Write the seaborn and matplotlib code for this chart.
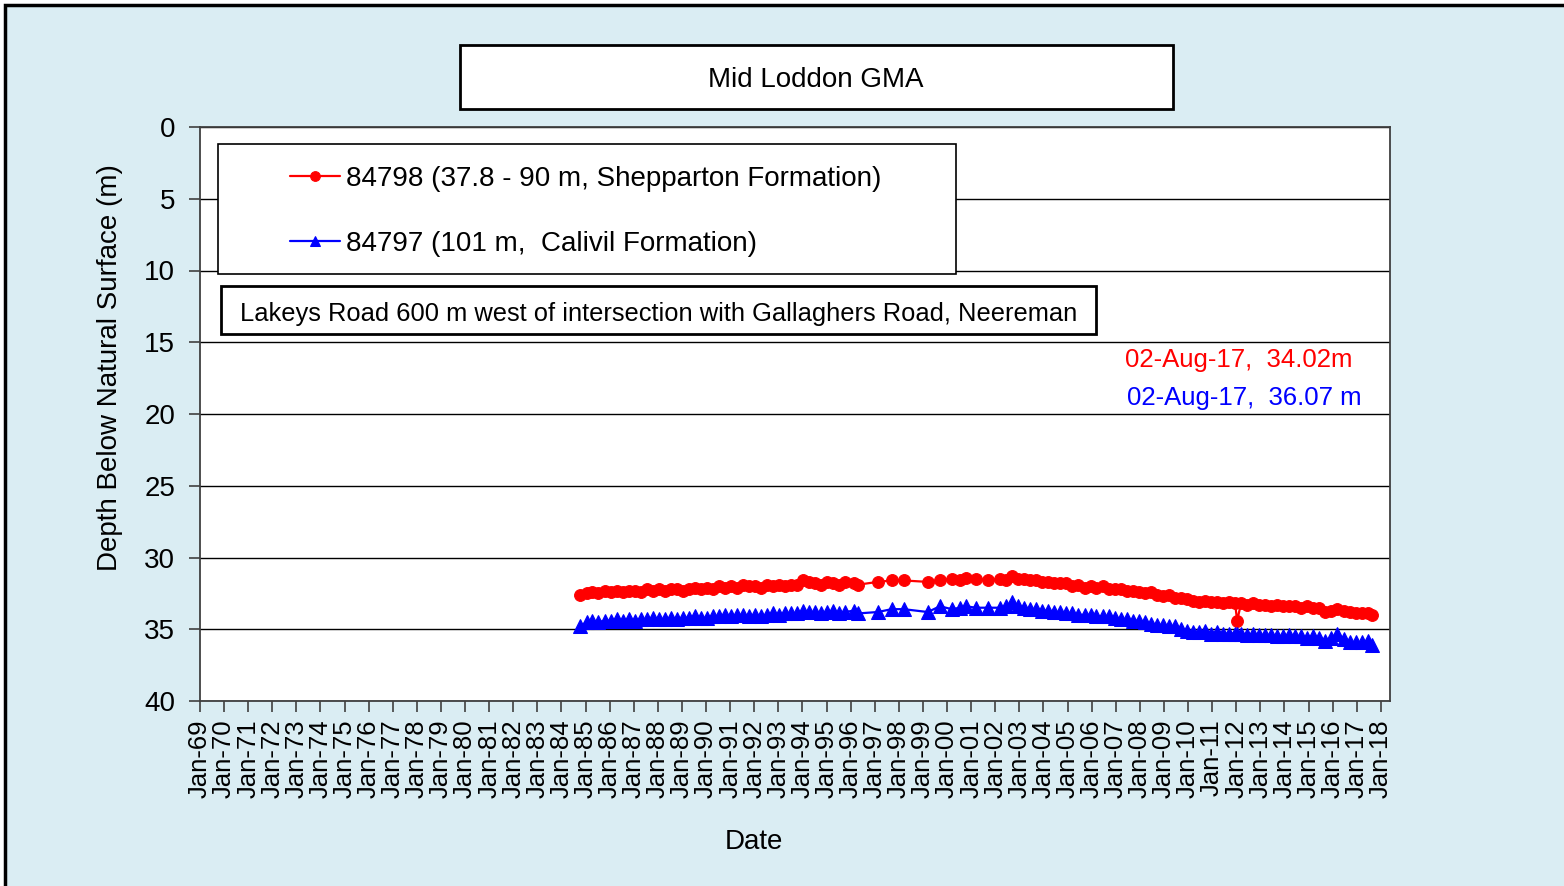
import matplotlib
matplotlib.use("Agg")
import matplotlib.pyplot as plt
import matplotlib.dates as mdates
from matplotlib.patches import Rectangle
import pandas as pd
import seaborn as sns

# sample dates (year-month) shared by both bores
dates = [
    "1984-10",
    "1985-01", "1985-04", "1985-07", "1985-10",
    "1986-01", "1986-04", "1986-07", "1986-10",
    "1987-01", "1987-04", "1987-07", "1987-10",
    "1988-01", "1988-04", "1988-07", "1988-10",
    "1989-01", "1989-04", "1989-07", "1989-10",
    "1990-01", "1990-04", "1990-07", "1990-10",
    "1991-01", "1991-04", "1991-07", "1991-10",
    "1992-01", "1992-04", "1992-07", "1992-10",
    "1993-01", "1993-04", "1993-07", "1993-10",
    "1994-01", "1994-04", "1994-07", "1994-10",
    "1995-01", "1995-04", "1995-07", "1995-10",
    "1996-02", "1996-04",
    "1997-02", "1997-09",
    "1998-03",
    "1999-03", "1999-09",
    "2000-03", "2000-07", "2000-10",
    "2001-03", "2001-09",
    "2002-03", "2002-06", "2002-09", "2002-12",
    "2003-03", "2003-06", "2003-09", "2003-12",
    "2004-03", "2004-06", "2004-09", "2004-12",
    "2005-03", "2005-06", "2005-09", "2005-12",
    "2006-03", "2006-06", "2006-09", "2006-12",
    "2007-03", "2007-06", "2007-09", "2007-12",
    "2008-03", "2008-06", "2008-09", "2008-12",
    "2009-03", "2009-06", "2009-09", "2009-12",
    "2010-03", "2010-06", "2010-09", "2010-12",
    "2011-03", "2011-06", "2011-09", "2011-12",
    "2012-01", "2012-03", "2012-06", "2012-09", "2012-12",
    "2013-03", "2013-06", "2013-09", "2013-12",
    "2014-03", "2014-06", "2014-09", "2014-12",
    "2015-03", "2015-06", "2015-09", "2015-12",
    "2016-03", "2016-06", "2016-09", "2016-12",
    "2017-03", "2017-06", "2017-08",
]

# 84798 (Shepparton Formation) depth below surface, m
red_depth = [
    32.6,
    32.5, 32.4, 32.5, 32.3,
    32.4, 32.3, 32.4, 32.3,
    32.3, 32.4, 32.2, 32.3,
    32.2, 32.3, 32.2, 32.2,
    32.3, 32.2, 32.1, 32.2,
    32.1, 32.2, 32.0, 32.1,
    32.0, 32.1, 31.9, 32.0,
    32.0, 32.1, 31.9, 32.0,
    31.9, 32.0, 31.9, 31.9,
    31.6, 31.7, 31.8, 31.9,
    31.7, 31.8, 31.9, 31.7,
    31.8, 31.9,
    31.7, 31.6,
    31.6,
    31.7, 31.6,
    31.5, 31.6, 31.4,
    31.5, 31.6,
    31.5, 31.6, 31.3, 31.5,
    31.5, 31.6, 31.6, 31.7,
    31.7, 31.8, 31.8, 31.8,
    32.0, 31.9, 32.1, 32.0,
    32.1, 32.0, 32.2, 32.2,
    32.2, 32.3, 32.3, 32.4,
    32.5, 32.4, 32.6, 32.7,
    32.6, 32.8, 32.8, 32.9,
    33.0, 33.1, 33.0, 33.1,
    33.1, 33.2, 33.1, 33.2,
    34.4, 33.2, 33.3, 33.2, 33.3,
    33.3, 33.4, 33.3, 33.4,
    33.4, 33.4, 33.5, 33.4,
    33.5, 33.5, 33.8, 33.7,
    33.6, 33.7, 33.8, 33.9,
    33.9, 33.9, 34.02,
]

# 84797 (Calivil Formation) depth below surface, m
blue_depth = [
    34.8,
    34.5, 34.4, 34.5, 34.4,
    34.4, 34.3, 34.4, 34.3,
    34.4, 34.3, 34.3, 34.2,
    34.3, 34.3, 34.2, 34.3,
    34.2, 34.2, 34.1, 34.2,
    34.2, 34.1, 34.1, 34.0,
    34.1, 34.0, 34.0, 34.1,
    34.0, 34.1, 34.0, 33.9,
    34.0, 33.9, 33.9, 33.9,
    33.7, 33.8, 33.8, 33.9,
    33.8, 33.7, 33.9, 33.8,
    33.7, 33.9,
    33.8, 33.6,
    33.6,
    33.8, 33.4,
    33.6, 33.5, 33.4,
    33.5, 33.5,
    33.5, 33.4, 33.1, 33.4,
    33.5, 33.6, 33.6, 33.7,
    33.7, 33.8, 33.8, 33.9,
    33.9, 34.0, 34.0, 34.0,
    34.1, 34.1, 34.1, 34.2,
    34.3, 34.3, 34.4, 34.4,
    34.5, 34.6, 34.7, 34.7,
    34.8, 34.8, 35.0, 35.1,
    35.2, 35.2, 35.1, 35.3,
    35.2, 35.3, 35.3, 35.3,
    35.3, 35.3, 35.4, 35.3, 35.4,
    35.4, 35.4, 35.5, 35.5,
    35.4, 35.5, 35.5, 35.6,
    35.5, 35.6, 35.8, 35.6,
    35.3, 35.7, 35.9, 35.9,
    35.9, 35.8, 36.07,
]

red_label = "84798 (37.8 - 90 m, Shepparton Formation)"
blue_label = "84797 (101 m,  Calivil Formation)"
title = "Mid Loddon GMA"
location = "Lakeys Road 600 m west of intersection with Gallaghers Road, Neereman"
red_note = "02-Aug-17,  34.02m"
blue_note = "02-Aug-17,  36.07 m"

df = pd.DataFrame({
    "date": pd.to_datetime(dates, format="%Y-%m") + pd.Timedelta(days=14),
    "red": red_depth,
    "blue": blue_depth,
})

sns.set_style("white")
plt.rcParams["font.family"] = ["Liberation Sans", "DejaVu Sans"]
plt.rcParams["text.color"] = "black"
plt.rcParams["axes.labelcolor"] = "black"
plt.rcParams["xtick.color"] = "black"
plt.rcParams["ytick.color"] = "black"

W, H = 1564, 886
bg = "#DAEDF3"

fig = plt.figure(figsize=(W / 100, H / 100), dpi=100)
fig.patch.set_facecolor("white")


def fx(px):
    return px / W


def fy(py):
    return 1 - py / H


# chart area background with border (left/top visible)
fig.add_artist(Rectangle((fx(5), -0.05), 1.1, fy(5) + 0.05, transform=fig.transFigure,
                         facecolor=bg, edgecolor="black", linewidth=2.5, zorder=-10))

ax = fig.add_axes([fx(200), fy(701), fx(1390) - fx(200), fy(127) - fy(701)])
ax.set_facecolor("white")

sns.lineplot(data=df, x="date", y="red", ax=ax, color="red", marker="o",
             markersize=8.5, markeredgecolor="red", linewidth=1.6, label=red_label,
             estimator=None, zorder=3)
sns.lineplot(data=df, x="date", y="blue", ax=ax, color="blue", marker="^",
             markersize=10, markeredgecolor="blue", linewidth=1.6, label=blue_label,
             estimator=None, zorder=3)

handles, labels = ax.get_legend_handles_labels()
ax.get_legend().remove()

ax.set_ylim(40, 0)
ax.set_yticks(range(0, 41, 5))
ax.set_xlim(pd.Timestamp("1969-01-01"), pd.Timestamp("2018-05-20"))
ax.xaxis.set_major_locator(mdates.YearLocator(1, month=1, day=1))
ax.xaxis.set_major_formatter(mdates.DateFormatter("%b-%y"))
ax.grid(axis="y", color="black", linewidth=1)
ax.grid(axis="x", visible=False)
for s in ax.spines.values():
    s.set_color("#404040")
    s.set_linewidth(1.3)

ax.tick_params(axis="y", direction="out", length=8, width=1.2, color="#404040",
               labelsize=20, pad=10, left=True)
ax.tick_params(axis="x", direction="out", length=8, width=1.2, color="#404040",
               labelsize=18.5, pad=5, bottom=True, labelrotation=90)

ax.set_xlabel("Date", fontsize=20)
ax.xaxis.set_label_coords((754 - 200) / 1190, -(842 - 701) / 574)
ax.xaxis.label.set_va("center")
ax.set_ylabel("Depth Below Natural Surface (m)", fontsize=20)
ax.yaxis.set_label_coords((110 - 200) / 1190, (701 - 368) / 574)
ax.yaxis.label.set_va("center")

# title box
fig.add_artist(Rectangle((fx(460), fy(109)), fx(1173) - fx(460), fy(45) - fy(109),
                         transform=fig.transFigure, facecolor="white", edgecolor="black",
                         linewidth=2, zorder=5))
fig.text(fx(816), fy(80), title, ha="center", va="center", fontsize=20, zorder=6)

# legend box
fig.add_artist(Rectangle((fx(218), fy(274)), fx(956) - fx(218), fy(144) - fy(274),
                         transform=fig.transFigure, facecolor="white", edgecolor="black",
                         linewidth=1.2, zorder=5))
leg = fig.legend(handles, labels, loc="center left", bbox_to_anchor=(fx(290), fy(211.5)),
                 bbox_transform=fig.transFigure, frameon=False, borderpad=0,
                 borderaxespad=0, handlelength=1.8, handletextpad=0.2,
                 labelspacing=1.4, fontsize=20)
for h in leg.legend_handles:
    h.set_markersize(7)
leg.set_zorder(7)

# location box
fig.add_artist(Rectangle((fx(221), fy(334)), fx(1096) - fx(221), fy(286) - fy(334),
                         transform=fig.transFigure, facecolor="white", edgecolor="black",
                         linewidth=2, zorder=5))
fig.text(fx(659), fy(314), location, ha="center", va="center", fontsize=18.4, zorder=6)

# latest readings
fig.text(fx(1125), fy(360), red_note, ha="left", va="center", fontsize=18.5,
         color="red", zorder=6)
fig.text(fx(1127), fy(398), blue_note, ha="left", va="center", fontsize=18.5,
         color="blue", zorder=6)

fig.savefig("out.png", dpi=100)
